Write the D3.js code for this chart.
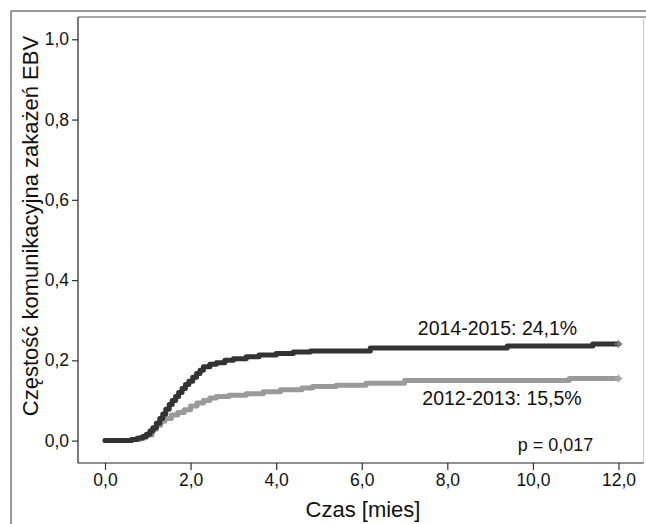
<!DOCTYPE html>
<html><head><meta charset="utf-8">
<script src="https://cdn.jsdelivr.net/npm/d3@7"></script>
<style>html,body{margin:0;padding:0;background:#fff;}svg{display:block;font-family:"Liberation Sans",Arial,sans-serif;}</style>
</head><body>
<script>
// Data (cumulative incidence step curves)
const darkTimes  = [0,0.62,0.75,0.88,0.97,1.05,1.12,1.2,1.28,1.35,1.42,1.5,1.57,1.65,1.72,1.8,1.88,1.96,2.05,2.14,2.22,2.3,2.45,2.6,2.8,3.0,3.3,3.6,4.0,4.4,4.8,6.2,9.4,11.4,12];
const darkValues = [0,0.003,0.006,0.01,0.016,0.024,0.032,0.043,0.055,0.066,0.078,0.09,0.1,0.11,0.12,0.13,0.14,0.148,0.158,0.167,0.175,0.184,0.19,0.194,0.2,0.204,0.209,0.213,0.217,0.221,0.223,0.231,0.236,0.241,0.241];
const lightTimes  = [0,0.62,0.8,0.95,1.1,1.2,1.3,1.4,1.55,1.7,1.85,2.0,2.15,2.3,2.45,2.6,2.9,3.3,3.7,4.1,4.6,4.85,5.4,6.1,7.0,10.85,12];
const lightValues = [0,0.003,0.007,0.014,0.028,0.038,0.048,0.055,0.064,0.07,0.077,0.086,0.094,0.1,0.106,0.11,0.113,0.117,0.122,0.127,0.131,0.135,0.138,0.143,0.15,0.155,0.155];
const xTicks = [0,2,4,6,8,10,12];
const yTicks = [0,0.2,0.4,0.6,0.8,1.0];
const labels = {dark:"2014-2015: 24,1%", light:"2012-2013: 15,5%", p:"p = 0,017"};
const xTitle = "Czas [mies]";
const yTitle = "Częstość komunikacyjna zakażeń EBV";

const W=646,H=524;
const svg=d3.select("body").append("svg").attr("width",W).attr("height",H);
const fmt=d=>d3.format(".1f")(d).replace(".",",");

const plotL=78, plotT=17, plotR=643.5, plotB=463;
const x=d3.scaleLinear().domain([0,12]).range([105,618.5]);
const y=d3.scaleLinear().domain([0,1]).range([440.6,39.3]);

// outer frame
svg.append("line").attr("x1",11).attr("x2",W).attr("y1",11).attr("y2",11).attr("stroke","#777").attr("stroke-width",1.5);
svg.append("line").attr("x1",11).attr("x2",11).attr("y1",11).attr("y2",H).attr("stroke","#555").attr("stroke-width",1.2);
// plot frame
svg.append("line").attr("x1",plotL).attr("x2",W).attr("y1",plotT).attr("y2",plotT).attr("stroke","#888").attr("stroke-width",1.6);
svg.append("line").attr("x1",plotR).attr("x2",plotR).attr("y1",plotT).attr("y2",plotB).attr("stroke","#d0d0d0").attr("stroke-width",1.2);

// axes
const yAxis=svg.append("g").attr("transform",`translate(${plotL},0)`)
  .call(d3.axisLeft(y).tickValues(yTicks).tickFormat(fmt).tickSize(6).tickPadding(3));
yAxis.select(".domain").remove();
svg.append("line").attr("x1",plotL).attr("x2",plotL).attr("y1",plotT).attr("y2",plotB).attr("stroke","#222").attr("stroke-width",1.2);
const xAxis=svg.append("g").attr("transform",`translate(0,${plotB})`)
  .call(d3.axisBottom(x).tickValues(xTicks).tickFormat(fmt).tickSize(7).tickPadding(4));
xAxis.select(".domain").remove();
svg.append("line").attr("x1",plotL).attr("x2",plotR).attr("y1",plotB).attr("y2",plotB).attr("stroke","#222").attr("stroke-width",1.2);
svg.selectAll(".tick text").attr("font-size","17.5px").attr("fill","#111").attr("font-family",'"Liberation Sans",Arial,sans-serif');
svg.selectAll(".tick line").attr("stroke","#333").attr("stroke-width",1.2);

// titles
svg.append("text").attr("x",363).attr("y",517).attr("text-anchor","middle").attr("font-size","22px").attr("fill","#111").text(xTitle);
svg.append("text").attr("transform","translate(38,226) rotate(-90)").attr("text-anchor","middle").attr("font-size","22px").attr("fill","#111").text(yTitle);

// curves
const line=d3.line().x(d=>x(d[0])).y(d=>y(d[1])).curve(d3.curveStepAfter);
const lightData=lightTimes.map((t,i)=>[t,lightValues[i]]);
const darkData=darkTimes.map((t,i)=>[t,darkValues[i]]);
svg.append("path").datum(lightData).attr("d",line).attr("fill","none").attr("stroke","#9a9a9a").attr("stroke-width",5).attr("stroke-linejoin","round").attr("stroke-linecap","round");
svg.append("path").datum(darkData).attr("d",line).attr("fill","none").attr("stroke","#333").attr("stroke-width",5).attr("stroke-linejoin","round").attr("stroke-linecap","round");
// censor marks at end
[[lightData,"#aaa"],[darkData,"#888"]].forEach(([d,c])=>{
  const last=d[d.length-1];
  const cx=x(last[0]), cy=y(last[1]);
  svg.append("path").attr("d",`M${cx-4},${cy}H${cx+4}M${cx},${cy-4}V${cy+4}`).attr("stroke",c).attr("stroke-width",1.5);
});

// annotations
svg.append("text").attr("x",497.5).attr("y",335).attr("text-anchor","middle").attr("font-size","19.5px").attr("fill","#111").text(labels.dark);
svg.append("text").attr("x",502).attr("y",405).attr("text-anchor","middle").attr("font-size","19.5px").attr("fill","#111").text(labels.light);
svg.append("text").attr("x",555.5).attr("y",451).attr("text-anchor","middle").attr("font-size","18px").attr("fill","#111").text(labels.p);
</script>
</body></html>
